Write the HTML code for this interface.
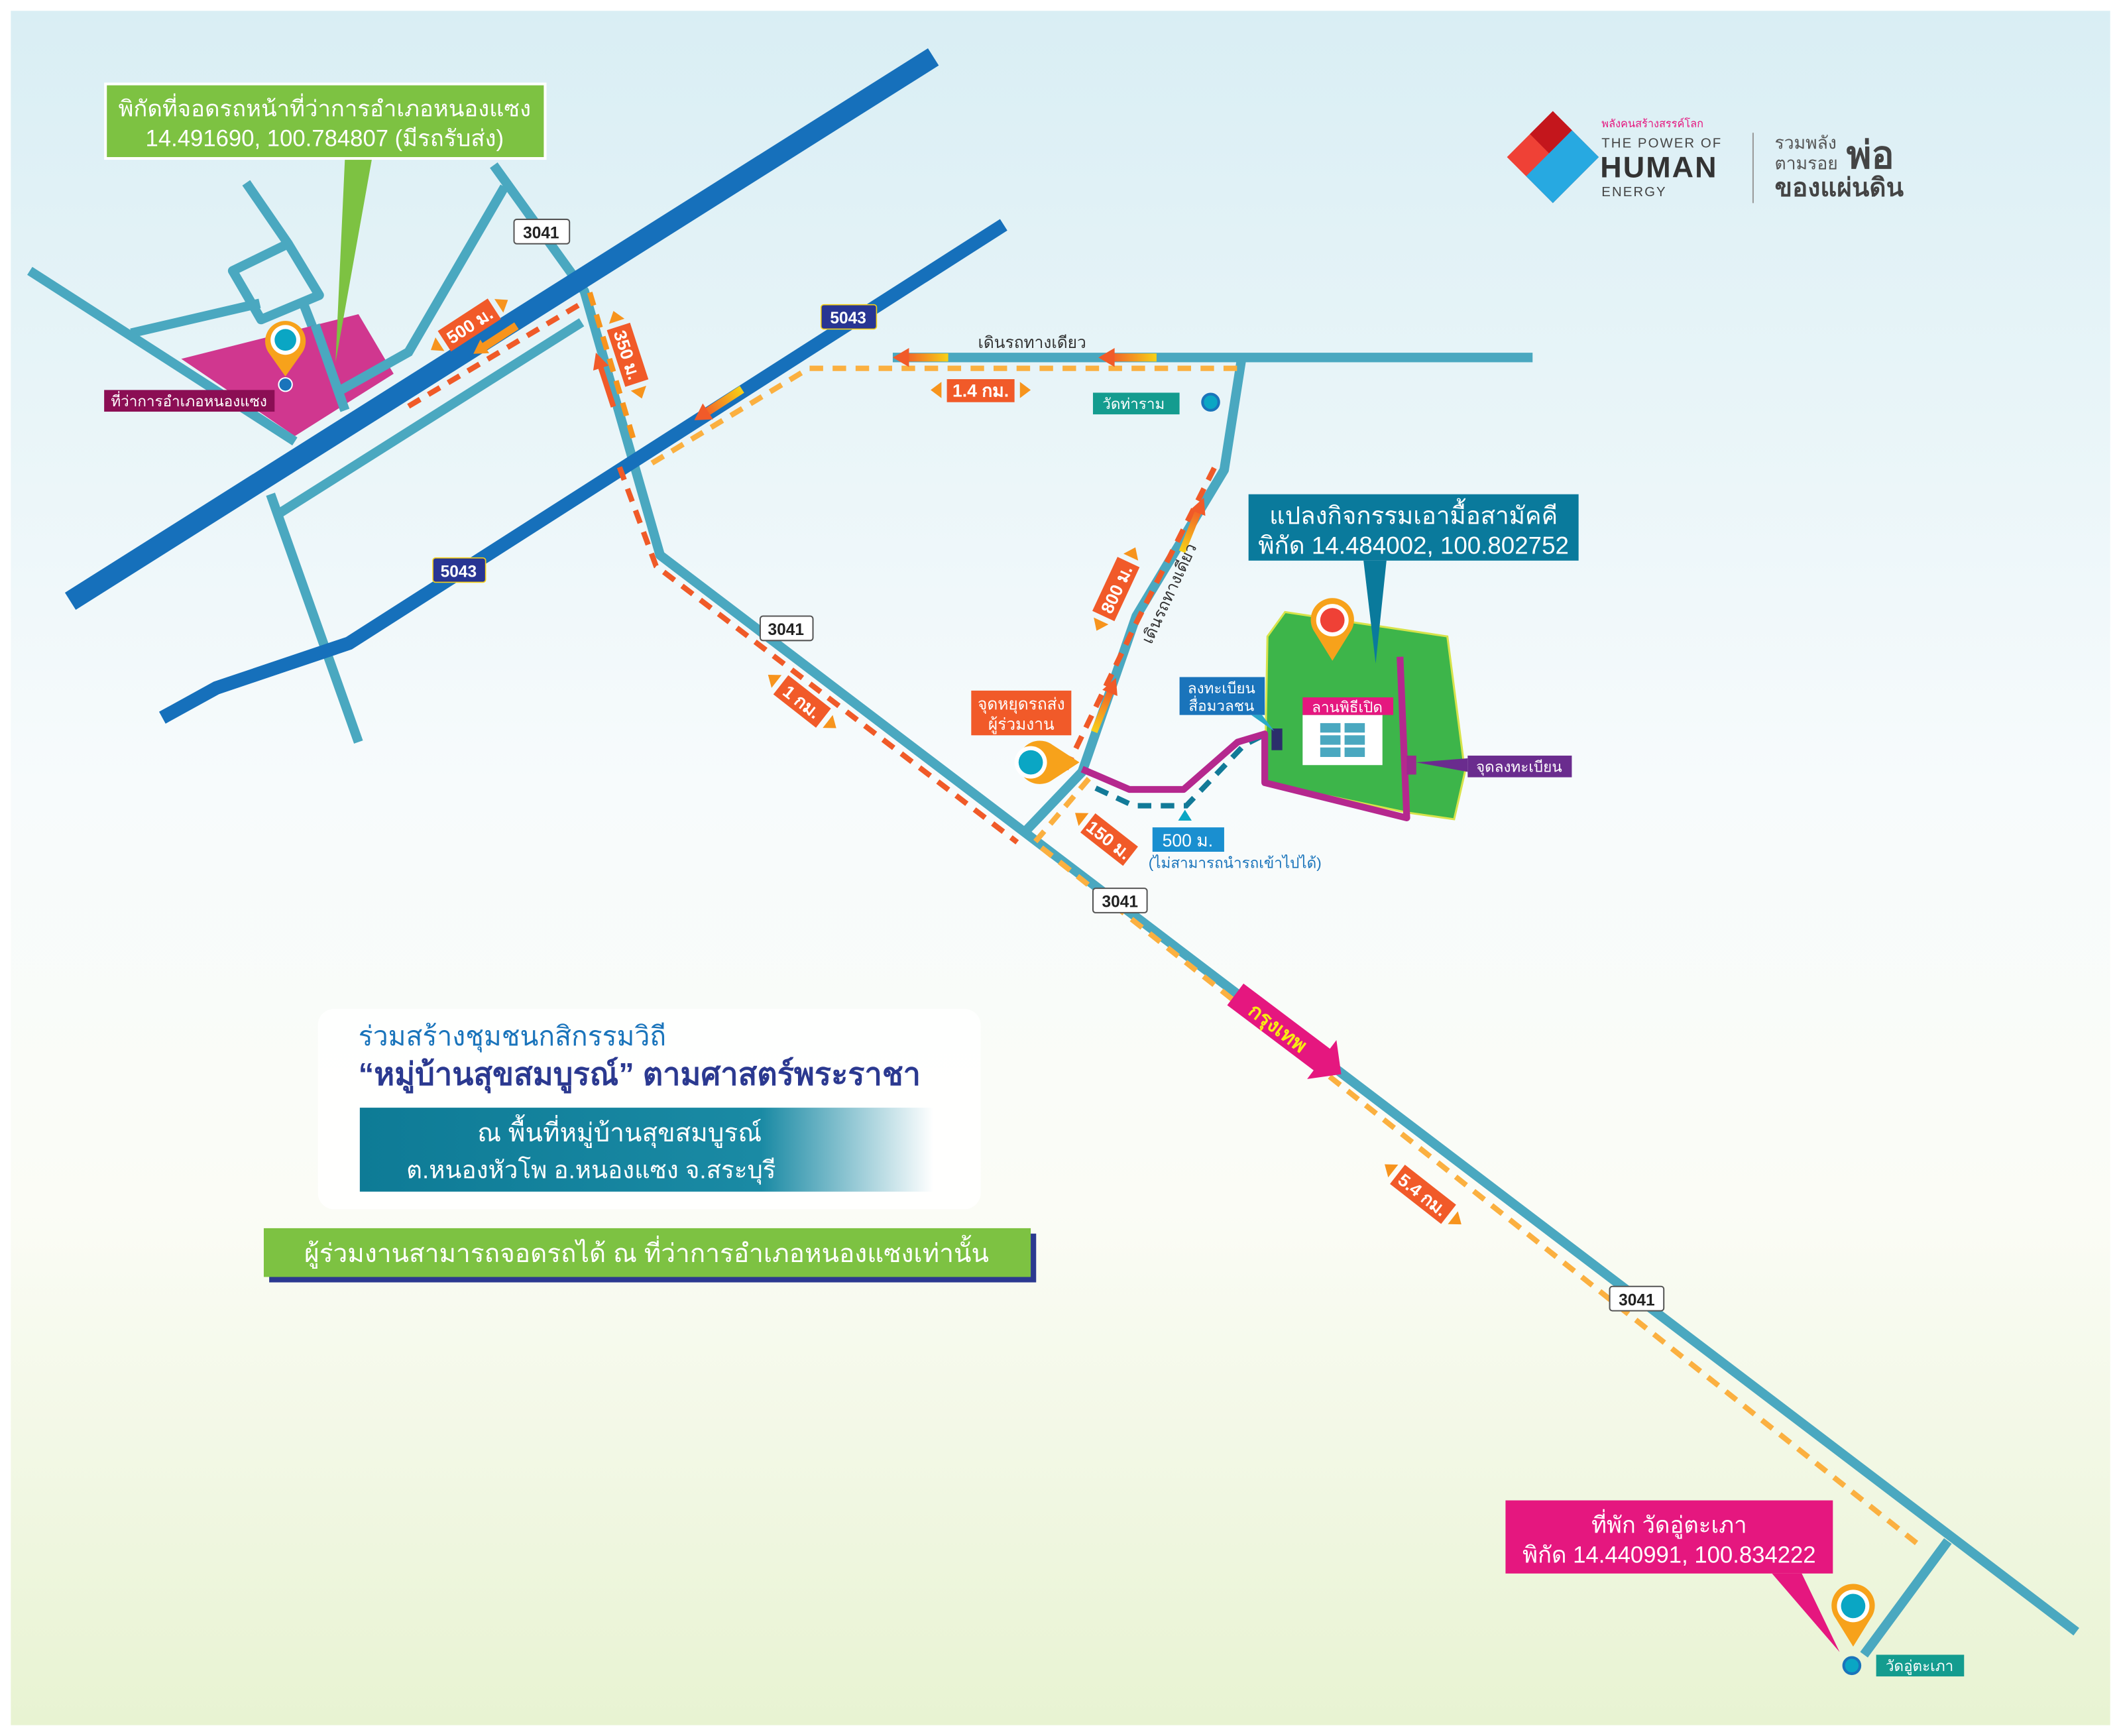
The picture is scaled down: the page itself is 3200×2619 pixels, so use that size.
<!DOCTYPE html>
<html><head><meta charset="utf-8"><style>
html,body{margin:0;padding:0;width:3200px;height:2619px;overflow:hidden;background:#fff}
svg{display:block}
text{font-family:"Liberation Sans","Noto Sans CJK SC",sans-serif}
</style></head><body>
<svg width="3200" height="2619" viewBox="0 0 1568 1282" preserveAspectRatio="none" xmlns="http://www.w3.org/2000/svg">
<defs>
<linearGradient id="bg" x1="0" y1="0" x2="0" y2="1">
<stop offset="0" stop-color="#d9eef4"/><stop offset="0.45" stop-color="#f7fbfc"/><stop offset="0.7" stop-color="#fbfcf6"/><stop offset="1" stop-color="#e8f3d2"/>
</linearGradient>
<linearGradient id="tg" x1="0" y1="0" x2="1" y2="0">
<stop offset="0" stop-color="#0e7b96"/><stop offset="0.7" stop-color="#1a8aa4"/><stop offset="1" stop-color="#ffffff"/>
</linearGradient>
<linearGradient id="ar" x1="0" y1="0" x2="1" y2="0">
<stop offset="0" stop-color="#f15a29"/><stop offset="1" stop-color="#f7d117"/>
</linearGradient>
</defs>
<rect width="1568" height="1282" fill="#fff"/>
<rect x="8" y="8" width="1552" height="1266" fill="url(#bg)"/>

<!-- light blue roads -->
<g stroke="#4aa8c0" stroke-width="7" fill="none" stroke-linejoin="round">
<polyline points="200,365 265,548"/>
<polyline points="182,135 213,180"/>
<polygon points="172,200 213,180 236,218 193,236"/>
<polyline points="225,226 255,303"/>
<polyline points="97,246 192,224"/>
<polyline points="430,238 205,380"/>
<polyline points="365,122 432,215 488,410 1535,1205"/>
<polyline points="660,264 1133,264"/>
<polyline points="918,264 905,347 840,455 800,570 757,615"/>
<polyline points="1440,1138 1378,1222"/>
</g>
<polygon points="134,265 265,232 291,276 218,322" fill="#d0378f"/>
<line x1="22" y1="200" x2="218" y2="326" stroke="#4aa8c0" stroke-width="7"/>
<polyline points="233,240 255,303" stroke="#4aa8c0" stroke-width="7" fill="none"/>
<polyline points="373,138 302,260 252,288" stroke="#4aa8c0" stroke-width="7" fill="none"/>

<!-- dark blue roads -->
<line x1="52" y1="444" x2="690" y2="42" stroke="#1670bb" stroke-width="15"/>
<polyline points="120,530 160,508 258,475 742,166" stroke="#1670bb" stroke-width="10" fill="none"/>

<!-- dashed routes -->
<g fill="none" stroke-width="4" stroke-dasharray="10,7">
<polyline points="302,300 430,224" stroke="#f05a28"/>
<polyline points="436,216 470,330" stroke="#f7941d"/>
<polyline points="458,345 485,418 752,622" stroke="#f05a28"/>
<polyline points="482,342 598,272 918,272" stroke="#fbb040"/>
<polyline points="788,568 840,460 898,345" stroke="#f05a28"/>
<polyline points="805,575 765,622 1420,1142" stroke="#fbb040"/>
<polyline points="810,582 838,595 877,595 920,550 940,540" stroke="#127a98"/>
</g>

<!-- green plot -->
<polygon points="950,452 1070,470 1083,570 1075,605 1040,600 935,578 937,470" fill="#3db54a" stroke="#d7e34a" stroke-width="1.5"/>
<polyline points="800,568 835,583 875,583 915,548 935,542 935,578 1040,604 1035,485" fill="none" stroke="#b5288e" stroke-width="5" stroke-linejoin="round"/>
<rect x="963" y="528" width="59" height="37" fill="#fff"/>
<g fill="#4aa8c0"><rect x="976" y="534" width="15" height="7"/><rect x="994" y="534" width="15" height="7"/><rect x="976" y="543" width="15" height="7"/><rect x="994" y="543" width="15" height="7"/><rect x="976" y="552" width="15" height="7"/><rect x="994" y="552" width="15" height="7"/></g>
<rect x="940" y="538" width="8" height="16" fill="#2b2e6b"/>
<rect x="1040" y="558" width="7" height="14" fill="#9b2a8e"/>

<!-- road gradient arrows -->
<g>
<rect x="668" y="261" width="33" height="6" fill="url(#ar)"/><polygon points="660,264 672,257 672,271" fill="#f15a29"/>
<rect x="820" y="261" width="35" height="6" fill="url(#ar)"/><polygon points="812,264 824,257 824,271" fill="#f15a29"/>
<g transform="translate(355,258) rotate(-33)"><rect x="0" y="-3" width="32" height="6" fill="#f7941d"/><polygon points="-6,0 4,-6 4,6" fill="#f7941d"/></g>
<g transform="translate(520,306) rotate(-33)"><rect x="0" y="-3" width="34" height="6" fill="url(#ar)"/><polygon points="-8,0 4,-7 4,7" fill="#f15a29"/></g>
<g transform="translate(443,268) rotate(72)"><rect x="0" y="-2" width="34" height="4" fill="#f15a29"/><polygon points="-8,0 4,-6 4,6" fill="#f15a29"/></g>
<g transform="translate(887,375) rotate(112)"><rect x="0" y="-2.5" width="35" height="5" fill="url(#ar)"/><polygon points="-8,0 4,-6 4,6" fill="#f15a29"/></g>
<g transform="translate(822,508) rotate(112)"><rect x="0" y="-2.5" width="35" height="5" fill="url(#ar)"/><polygon points="-8,0 4,-6 4,6" fill="#f15a29"/></g>
</g>

<!-- route numbers -->
<g font-size="12" font-weight="bold" text-anchor="middle">
<rect x="380" y="162" width="41" height="18" rx="2" fill="#fff" stroke="#555"/><text x="400" y="176" fill="#222">3041</text>
<rect x="562" y="455" width="39" height="18" rx="2" fill="#fff" stroke="#555"/><text x="581" y="469" fill="#222">3041</text>
<rect x="808" y="656" width="40" height="18" rx="2" fill="#fff" stroke="#555"/><text x="828" y="670" fill="#222">3041</text>
<rect x="1190" y="950" width="40" height="18" rx="2" fill="#fff" stroke="#555"/><text x="1210" y="964" fill="#222">3041</text>
<rect x="607" y="225" width="41" height="18" rx="2" fill="#283593" stroke="#f7d117" stroke-width="0.8"/><text x="627" y="239" fill="#fff">5043</text>
<rect x="320" y="412" width="39" height="18" rx="2" fill="#283593" stroke="#f7d117" stroke-width="0.8"/><text x="339" y="426" fill="#fff">5043</text>
</g>

<!-- distance labels -->
<g font-size="13" font-weight="bold" fill="#fff" text-anchor="middle">
<g transform="translate(347,240) rotate(-33)"><rect x="-22" y="-9" width="44" height="18" fill="#f15a29"/><text y="5">500 ม.</text><polygon points="-26,-6 -34,0 -26,6" fill="#f7941d"/><polygon points="26,-6 34,0 26,6" fill="#f7941d"/></g>
<g transform="translate(464,262) rotate(72)"><rect x="-22" y="-9" width="44" height="18" fill="#f15a29"/><text y="5">350 ม.</text><polygon points="-26,-6 -34,0 -26,6" fill="#f7941d"/><polygon points="26,-6 34,0 26,6" fill="#f7941d"/></g>
<g transform="translate(725,288)"><rect x="-25" y="-8" width="50" height="17" fill="#f15a29"/><text y="5">1.4 กม.</text><polygon points="-29,-6 -37,0 -29,6" fill="#f7941d"/><polygon points="29,-6 37,0 29,6" fill="#f7941d"/></g>
<g transform="translate(825,435) rotate(-65)"><rect x="-22" y="-9" width="44" height="18" fill="#f15a29"/><text y="5">800 ม.</text><polygon points="-26,-6 -34,0 -26,6" fill="#f7941d"/><polygon points="26,-6 34,0 26,6" fill="#f7941d"/></g>
<g transform="translate(593,518) rotate(38)"><rect x="-20" y="-9" width="40" height="18" fill="#f15a29"/><text y="5">1 กม.</text><polygon points="-24,-6 -32,0 -24,6" fill="#f7941d"/><polygon points="24,-6 32,0 24,6" fill="#f7941d"/></g>
<g transform="translate(820,620) rotate(38)"><rect x="-20" y="-9" width="40" height="18" fill="#f15a29"/><text y="5">150 ม.</text><polygon points="-24,-6 -32,0 -24,6" fill="#f7941d"/></g>
<g transform="translate(1052,882) rotate(38)"><rect x="-24" y="-9" width="48" height="18" fill="#f15a29"/><text y="5">5.4 กม.</text><polygon points="-28,-6 -36,0 -28,6" fill="#f7941d"/><polygon points="28,-6 36,0 28,6" fill="#f7941d"/></g>
</g>

<!-- Bangkok arrow -->
<g transform="translate(950,762) rotate(37)">
<polygon points="-46,-10 34,-10 34,-18 52,0 34,18 34,10 -46,10" fill="#e5177f"/>
<text x="-6" y="6" font-size="15" font-weight="bold" fill="#f7ec13" text-anchor="middle">กรุงเทพ</text>
</g>

<!-- one-way texts -->
<text x="763" y="257" font-size="12" fill="#333" text-anchor="middle">เดินรถทางเดียว</text>
<text transform="translate(868,440) rotate(-65)" font-size="12" fill="#333" text-anchor="middle">เดินรถทางเดียว</text>

<!-- pins -->
<g transform="translate(211,256)"><path d="M0,22 L-12,5 A15,15 0 1 1 12,5 Z" fill="#f7a21b"/><circle r="11" cy="-5" fill="#fff"/><circle r="8" cy="-5" fill="#0aa6c4"/></g>
<circle cx="211" cy="284" r="5" fill="#1a74bb" stroke="#fff" stroke-width="1"/>
<g transform="translate(985,462)"><path d="M0,26 L-13,5 A16,16 0 1 1 13,5 Z" fill="#f7a21b"/><circle r="12" cy="-4" fill="#fff"/><circle r="9" cy="-4" fill="#ef4136"/></g>
<g transform="translate(762,563)"><path d="M36,0 L16,-13 A16,16 0 1 0 16,13 Z" fill="#f7a21b"/><circle r="12" fill="#fff"/><circle r="9" fill="#0aa6c4"/></g>
<g transform="translate(1370,1190)"><path d="M0,26 L-13,5 A16,16 0 1 1 13,5 Z" fill="#f7a21b"/><circle r="12" cy="-4" fill="#fff"/><circle r="9" cy="-4" fill="#0aa6c4"/></g>
<circle cx="1369" cy="1230" r="6" fill="#0aa6c4" stroke="#1a74bb" stroke-width="2"/>
<circle cx="895" cy="297" r="6" fill="#0aa6c4" stroke="#1a74bb" stroke-width="2"/>

<!-- callouts -->
<polygon points="255,117 275,117 248,268" fill="#7dc242"/>
<rect x="78" y="62" width="325" height="55" fill="#7dc242" stroke="#fff" stroke-width="2"/>
<text x="240" y="86" font-size="16.5" fill="#fff" text-anchor="middle" textLength="305" lengthAdjust="spacingAndGlyphs">พิกัดที่จอดรถหน้าที่ว่าการอำเภอหนองแซง</text>
<text x="240" y="108" font-size="17" fill="#fff" text-anchor="middle">14.491690, 100.784807 (มีรถรับส่ง)</text>

<polygon points="1008,414 1025,414 1017,490" fill="#0a7a9c"/>
<rect x="923" y="365" width="244" height="49" fill="#0a7a9c"/>
<text x="1045" y="387" font-size="18" fill="#fff" text-anchor="middle">แปลงกิจกรรมเอามื้อสามัคคี</text>
<text x="1045" y="409" font-size="18" fill="#fff" text-anchor="middle">พิกัด 14.484002, 100.802752</text>

<polygon points="1310,1162 1332,1162 1360,1220" fill="#e5177f"/>
<rect x="1113" y="1108" width="242" height="54" fill="#e5177f"/>
<text x="1234" y="1132" font-size="17" fill="#fff" text-anchor="middle">ที่พัก วัดอู่ตะเภา</text>
<text x="1234" y="1154" font-size="17" fill="#fff" text-anchor="middle">พิกัด 14.440991, 100.834222</text>

<!-- small labels -->
<g font-size="11" fill="#fff">
<rect x="77" y="288" width="126" height="16" fill="#8b0e54"/><text x="82" y="300">ที่ว่าการอำเภอหนองแซง</text>
<rect x="808" y="290" width="64" height="16" fill="#149c8f"/><text x="815" y="302">วัดท่าราม</text>
<rect x="718" y="510" width="74" height="33" fill="#f15a29"/><text x="755" y="524" text-anchor="middle" font-size="12">จุดหยุดรถส่ง</text><text x="755" y="539" text-anchor="middle" font-size="12">ผู้ร่วมงาน</text>
<rect x="872" y="500" width="63" height="28" fill="#1a74bb"/><text x="903" y="512" text-anchor="middle">ลงทะเบียน</text><text x="903" y="525" text-anchor="middle">สื่อมวลชน</text>
<polygon points="925,528 933,528 942,540" fill="#2aa8c9"/>
<rect x="963" y="515" width="67" height="13" fill="#e5177f"/><text x="996" y="526" text-anchor="middle">ลานพิธีเปิด</text>
<polygon points="1047,563 1085,560 1085,570" fill="#6a2c8e"/>
<rect x="1085" y="558" width="77" height="16" fill="#6a2c8e"/><text x="1123" y="570" text-anchor="middle">จุดลงทะเบียน</text>
<polygon points="876,598 871,606 881,606" fill="#0aa6c4"/>
<rect x="852" y="611" width="53" height="18" fill="#1a8fd0"/><text x="878" y="625" text-anchor="middle" font-size="13">500 ม.</text>
<text x="913" y="641" text-anchor="middle" fill="#1a74bb">(ไม่สามารถนำรถเข้าไปได้)</text>
<rect x="1387" y="1222" width="65" height="16" fill="#149c8f"/><text x="1394" y="1234">วัดอู่ตะเภา</text>
</g>

<!-- bottom-left panel -->
<rect x="235" y="745" width="490" height="148" rx="12" fill="#fff" opacity="0.85"/>
<text x="265" y="772" font-size="20" fill="#1a74bb">ร่วมสร้างชุมชนกสิกรรมวิถี</text>
<text x="265" y="801" font-size="23" font-weight="bold" fill="#2b3990">“หมู่บ้านสุขสมบูรณ์” ตามศาสตร์พระราชา</text>
<rect x="266" y="818" width="424" height="62" fill="url(#tg)"/>
<text x="458" y="843" font-size="19" fill="#fff" text-anchor="middle">ณ พื้นที่หมู่บ้านสุขสมบูรณ์</text>
<text x="437" y="870" font-size="18" fill="#fff" text-anchor="middle">ต.หนองหัวโพ อ.หนองแซง จ.สระบุรี</text>
<rect x="199" y="911" width="567" height="36" fill="#2b3990"/>
<rect x="195" y="907" width="567" height="36" fill="#7dc242"/>
<text x="478" y="932" font-size="19" fill="#fff" text-anchor="middle">ผู้ร่วมงานสามารถจอดรถได้ ณ ที่ว่าการอำเภอหนองแซงเท่านั้น</text>

<!-- logo -->
<g transform="translate(1148,116) rotate(45)">
<rect x="-24" y="-24" width="48" height="48" fill="#ef4136"/>
<rect x="-4" y="-24" width="28" height="48" fill="#27a9e1"/>
<rect x="-24" y="-24" width="20" height="24" fill="#c4161c"/>
</g>
<text x="1184" y="94" font-size="8" fill="#e5177f">พลังคนสร้างสรรค์โลก</text>
<text x="1184" y="109" font-size="10" fill="#444" letter-spacing="1">THE POWER OF</text>
<text x="1183" y="131" font-size="22" font-weight="bold" fill="#333" letter-spacing="1">HUMAN</text>
<text x="1184" y="145" font-size="10" fill="#444" letter-spacing="1">ENERGY</text>
<line x1="1296" y1="98" x2="1296" y2="150" stroke="#999" stroke-width="1"/>
<text x="1312" y="110" font-size="13" fill="#555">รวมพลัง</text>
<text x="1312" y="125" font-size="13" fill="#555">ตามรอย</text>
<text x="1365" y="124" font-size="28" font-weight="bold" fill="#444">พ่อ</text>
<text x="1312" y="145" font-size="19" font-weight="bold" fill="#444">ของแผ่นดิน</text>
</svg>
</body></html>
